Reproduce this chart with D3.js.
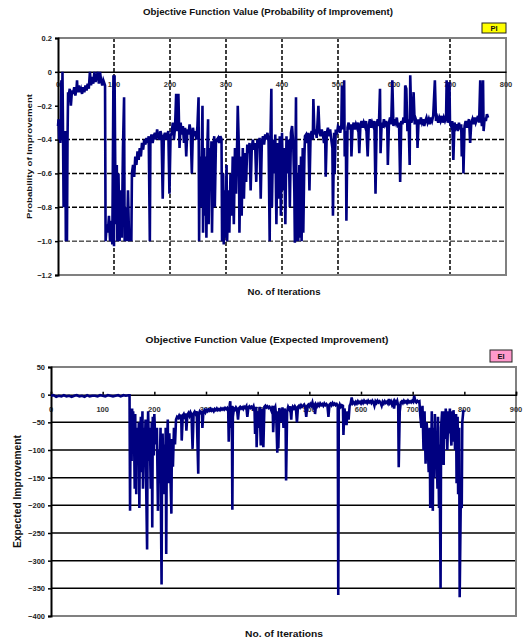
<!DOCTYPE html>
<html>
<head>
<meta charset="utf-8">
<script src="https://cdn.jsdelivr.net/npm/d3@7"></script>
<style>
  body { margin: 0; background: #fff; }
  svg { display: block; font-family: "Liberation Sans", Arial, sans-serif; font-weight: bold; }
</style>
</head>
<body>
<svg id="chart" width="524" height="641"></svg>
<script>
// --- data (iteration, value) ---
const piPoints = [
  [0,-0.32],[1,-0.28],[2,-0.4],[3,-0.3],[4,-0.42],[5,-0.35],[6,-0.05],[7,-0.3],[8,0],[9,-0.38],[10,-0.8],[11,-0.42],[12,-0.6],[13,-0.35],[14,-1],[15,-0.45],[16,-1],[17,-0.4],[18,-0.12],
  [19,-0.14],[21,-0.1],[23,-0.2],[25,-0.11],[27,-0.13],[29,-0.09],[31,-0.14],[33,-0.1],[34,-0.05],[35,-0.12],[37,-0.08],[39,-0.12],[41,-0.1],[43,-0.13],[45,-0.09],[47,-0.12],[49,-0.08],[51,-0.11],[53,-0.07],[55,-0.1],[57,0],[59,-0.08],[61,-0.03],[63,-0.07],[65,0],[67,-0.06],[69,-0.03],[71,0],[73,-0.07],[75,0],[77,-0.05],[79,-0.08],[81,-0.05],[83,-0.07],
  [84,-0.08],[85,-1],[87,-0.9],[89,-0.95],[91,-0.85],[93,-1],[95,-0.88],[97,-1.02],[99,-0.02],[100,-1.03],[101,-0.02],[103,-0.9],[105,-0.55],[106,-1],[108,-0.6],[110,-1],[112,-0.7],[114,-0.98],[116,-0.45],[118,-0.15],[119,-1],[121,-0.8],[123,-1],[125,-0.7],[127,-1],[129,-0.95],[131,-1],[132,-0.6],
  [134,-0.55],[136,-0.62],[138,-0.5],[140,-0.55],[142,-0.47],[144,-0.52],[146,-0.45],[148,-0.5],[150,-0.42],[152,-0.46],[154,-0.4],[156,-0.43],[158,-0.39],[160,-0.42],[162,-0.38],[164,-1],[165,-0.4],[167,-0.37],[169,-0.42],[171,-0.38],[173,-0.36],[175,-0.4],[177,-0.34],[179,-0.38],[181,-0.4],[183,-0.35],[185,-0.38],[187,-0.75],[189,-0.38],[191,-0.36],[193,-0.4],[195,-0.37],[197,-0.35],[199,-0.72],[201,-0.38],[203,-0.36],
  [205,-0.3],[207,-0.4],[209,-0.33],[211,-0.13],[213,-0.35],[215,-0.13],[217,-0.45],[219,-0.3],[221,-0.37],[223,-0.32],[225,-0.42],[227,-0.33],[229,-0.5],[231,-0.34],[233,-0.37],[235,-0.31],[237,-0.36],[239,-0.6],[241,-0.33],[243,-0.38],[245,-0.35],[247,-0.4],[249,-0.32],[251,-0.15],[252,-1],[253,-0.5],[255,-0.8],
  [257,-0.4],[258,-0.2],[259,-0.95],[261,-0.45],[262,-0.85],[264,-0.5],[265,-0.98],[267,-0.4],[268,-0.28],[269,-0.9],[271,-0.45],[272,-0.7],[274,-0.41],[275,-0.95],[277,-0.5],[279,-0.38],[280,-0.8],[282,-0.42],[284,-0.4],[286,-0.39],[288,-0.42],[290,-0.38],[292,-0.4],[293,-1],[295,-0.6],[296,-1.02],[298,-0.7],[299,-0.98],[301,-0.55],[302,-1],[304,-0.7],[306,-0.95],[308,-0.6],[310,-0.85],[312,-0.5],[314,-0.9],[316,-0.45],[318,-0.72],[320,-0.4],[321,-0.2],[323,-0.45],[324,-0.95],[326,-0.5],[328,-0.85],[330,-0.45],[332,-0.75],[334,-0.48],[336,-0.65],[338,-0.43],
  [340,-0.48],[342,-0.42],[344,-0.7],[346,-0.45],[348,-0.4],[350,-0.46],[352,-0.42],[354,-0.65],[356,-0.4],[358,-0.45],[360,-0.39],[362,-0.75],[364,-0.42],[366,-0.38],[368,-0.43],[370,-0.37],[372,-0.4],[374,-0.36],[376,-0.41],[378,-1],[379,-0.45],[381,-0.1],[382,-0.8],[384,-0.4],[386,-0.6],[388,-0.37],[390,-0.9],[392,-0.42],[394,-0.75],
  [396,-0.38],[398,-0.85],[400,-0.36],[402,-0.7],[404,-0.45],[406,-0.9],[408,-0.38],[410,-0.6],[412,-0.4],[414,-0.8],[416,-0.36],[418,-0.32],[420,-0.42],[422,-0.7],[423,-1.01],[424,-0.5],[425,-0.15],[426,-1],[428,-0.6],[429,-1],[431,-0.55],[432,-0.98],[434,-0.5],[435,-1],[437,-0.45],[438,-0.95],[440,-0.5],[441,-0.38],
  [443,-0.37],[445,-0.42],[447,-0.36],[449,-0.7],[451,-0.38],[453,-0.35],[455,-0.4],[456,-0.16],[458,-0.37],[460,-0.34],[462,-0.39],[465,-0.2],[467,-0.36],[469,-0.38],[471,-0.34],[473,-0.37],[475,-0.42],[477,-0.35],[478,-0.62],[480,-0.36],[482,-0.33],[484,-0.38],[486,-0.34],[488,-0.4],[490,-0.45],[491,-0.85],[493,-0.36],[494,-0.6],[496,-0.34],[498,-0.37],[500,-0.32],
  [502,-0.33],[504,-0.36],[506,-0.31],[507,-0.08],[509,-0.34],[511,-0.05],[512,-0.5],[514,-0.35],[515,-0.88],[517,-0.33],[519,-0.3],[521,-0.34],[523,-0.31],[524,-0.5],[526,-0.33],[528,-0.3],[530,-0.34],[532,-0.31],[534,-0.33],[536,-0.3],[538,-0.48],[540,-0.32],[542,-0.29],[544,-0.33],[546,-0.3],[548,-0.32],[550,-0.29],[553,-0.5],[555,-0.31],[557,-0.28],[559,-0.33],[561,-0.3],[563,-0.32],[565,-0.29],[567,-0.72],[569,-0.31],[571,-0.28],[573,-0.32],[575,-0.1],[576,-0.48],[578,-0.3],[580,-0.33],
  [582,-0.28],[584,-0.31],[586,-0.29],[588,-0.33],[589,-0.55],[591,-0.3],[593,-0.27],[595,-0.31],[597,-0.05],[599,-0.32],[601,-0.28],[603,-0.3],[605,-0.27],[607,-0.33],[609,-0.3],[611,-0.65],[613,-0.29],[615,-0.31],[617,-0.27],[619,-0.3],[620,-0.08],[622,-0.1],[624,-0.35],[626,-0.28],[628,-0.55],[629,-0.02],[631,-0.3],[633,-0.27],[635,-0.12],[637,-0.31],[639,-0.28],[641,-0.3],[642,-0.45],[644,-0.28],[646,-0.31],[648,-0.27],[650,-0.3],[652,-0.28],[654,-0.32],[656,-0.29],[658,-0.27],
  [660,-0.3],[662,-0.28],[664,-0.31],[666,-0.27],[668,-0.29],[670,-0.26],[673,-0.05],[675,-0.29],[677,-0.27],[679,-0.3],[681,-0.27],[683,-0.29],[685,-0.26],[687,-0.3],[689,-0.27],[691,-0.29],[693,-0.27],[694,-0.05],[696,-0.3],[698,-0.28],[699,-0.06],[700,-0.3],[702,-0.32],[704,-0.29],[706,-0.52],[708,-0.3],[710,-0.33],[712,-0.31],[714,-0.35],[716,-0.3],[718,-0.34],[720,-0.31],[721,-0.5],[723,-0.33],[724,-0.6],[726,-0.32],[728,-0.29],[730,-0.33],[732,-0.3],[734,-0.28],[736,-0.42],[738,-0.3],[740,-0.28],[742,-0.31],[744,-0.27],[746,-0.3],[748,-0.28],[750,-0.26],[752,-0.3],[754,-0.05],[756,-0.28],[757,-0.32],[759,-0.05],[760,-0.35],[762,-0.27],[764,-0.29],[766,-0.25],[768,-0.27]
];

const eiPoints = [
  [0,-2],[5,-1],[10,-4],[15,-2],[20,-3],[25,-1],[30,-3],[35,-2],[40,-4],[45,-2],[50,-1],[55,-3],[60,-2],[65,-4],[70,-1],[75,-3],[80,-2],[85,-2],[90,-3],[95,-1],[100,-2],[105,-3],[110,-1],[115,-2],[120,-3],[125,-2],[130,-1],[135,-3],[140,-1],[145,-2],[150,-1],[152,-1],
  [153,-210],[154,-40],[156,-120],[157,-25],[158,-60],[159,-30],[161,-90],[162,-170],[163,-35],[165,-180],[166,-60],[168,-110],[170,-50],[171,-205],[172,-80],[174,-40],[175,-140],[177,-30],[178,-170],[180,-60],[181,-120],[183,-45],[184,-150],[186,-280],[187,-80],[188,-30],[190,-120],[191,-60],[193,-170],[195,-50],[196,-240],[197,-40],[199,-110],[200,-35],[202,-90],[204,-65],[205,-60],[207,-210],[208,-100],[210,-160],[212,-60],[213,-230],[214,-343],[215,-100],[216,-70],[218,-180],[219,-90],[221,-160],[222,-60],[223,-288],[224,-120],[226,-45],[227,-160],[229,-70],[231,-140],[233,-215],[234,-80],[236,-130],[238,-60],[240,-90],[242,-45],[244,-40],[246,-42],
  [248,-38],[250,-42],[252,-36],[253,-83],[255,-38],[257,-35],[259,-40],[261,-34],[262,-65],[264,-36],[266,-33],[268,-38],[270,-32],[272,-36],[274,-98],[276,-34],[278,-31],[280,-35],[282,-30],[285,-143],[286,-34],[288,-30],[290,-33],[292,-29],[293,-60],[295,-31],[297,-28],[299,-32],[301,-28],[303,-30],[305,-27],[307,-29],[309,-26],[311,-29],[313,-27],[315,-30],[317,-26],[319,-28],[321,-25],[323,-28],[325,-26],[327,-28],[329,-25],[331,-27],[333,-25],[335,-27],[337,-24],[339,-26],[341,-24],[343,-30],[344,-85],[345,-50],[346,-17],[347,-12],[348,-60],[350,-20],[351,-208],[352,-40],[354,-25],
  [356,-27],[358,-23],[360,-26],[362,-45],[364,-24],[366,-22],[368,-25],[370,-23],[372,-26],[374,-22],[376,-24],[378,-21],[380,-40],[382,-23],[384,-21],[386,-24],[388,-22],[390,-25],[392,-21],[394,-30],[395,-71],[397,-22],[398,-95],[400,-30],[402,-60],[404,-22],[406,-92],[408,-25],[410,-40],[411,-95],[413,-22],[415,-20],[417,-23],[419,-21],[421,-24],[423,-22],[425,-25],
  [427,-30],[429,-20],[430,-68],[432,-26],[434,-22],[436,-40],[438,-105],[439,-30],[440,-97],[442,-24],[444,-35],[446,-50],[448,-23],[450,-60],[452,-25],[454,-40],[455,-155],[457,-30],[459,-22],[461,-26],[463,-21],[465,-45],[466,-28],[468,-22],[470,-25],[472,-21],[474,-24],[476,-50],[478,-22],[480,-20],[482,-23],[484,-19],[486,-22],[488,-20],
  [490,-18],[492,-22],[494,-40],[496,-20],[498,-18],[500,-21],[502,-17],[504,-20],[506,-14],[508,-22],[510,-19],[511,-35],[513,-18],[515,-21],[517,-17],[519,-20],[521,-16],[523,-19],[525,-17],[527,-20],[529,-16],[531,-19],[533,-17],[535,-20],[537,-40],[539,-18],[541,-16],[543,-19],[545,-15],[547,-18],[549,-16],[551,-19],[553,-17],[555,-20],[556,-362],[557,-25],[559,-18],[561,-22],[563,-19],[565,-20],[566,-73],[568,-25],[570,-40],[572,-55],[574,-30],[576,-45],[578,-20],[580,-16],
  [582,-5],[584,-16],[586,-14],[588,-17],[590,-13],[592,-16],[594,-12],[596,-15],[598,-13],[600,-16],[602,-12],[604,-15],[606,-11],[608,-14],[610,-12],[612,-15],[614,-11],[616,-14],[618,-12],[620,-15],[622,-11],[624,-14],[626,-20],[628,-12],[630,-15],[632,-11],[634,-14],[636,-12],[638,-15],[640,-20],[642,-13],[644,-16],[646,-12],[648,-15],[650,-13],[652,-16],[654,-8],[656,-15],[658,-12],[660,-18],[662,-14],[664,-25],[666,-12],[668,-15],[670,-11],[672,-20],[673,-131],[675,-30],[677,-14],[679,-12],[681,-15],[683,-11],[685,-14],[687,-12],[689,-15],[691,-11],[693,-14],[695,-12],[697,-14],[699,-11],[701,-13],[703,-2],[705,-12],[707,-14],[709,-11],[711,-13],[713,-12],[715,-40],[717,-60],[719,-20],[721,-100],[723,-30],[725,-125],[727,-50],[729,-80],
  [731,-140],[733,-60],[734,-205],[736,-100],[737,-30],[739,-210],[740,-60],[742,-150],[743,-35],[745,-120],[746,-80],[748,-170],[749,-40],[751,-205],[752,-90],[754,-350],[755,-60],[757,-30],[758,-110],[760,-127],[761,-30],[763,-80],[764,-25],[766,-60],[767,-100],[769,-30],[770,-70],[772,-25],[773,-55],[775,-92],[776,-30],[778,-85],[779,-28],[781,-60],[782,-100],[784,-35],[785,-160],[787,-40],[788,-180],[790,-60],[791,-366],[793,-200],[795,-205],[796,-50],[798,-30],[800,-28]
];

const piXTicks = [0, 100, 200, 300, 400, 500, 600, 700, 800];
const piYTicks = [0.2, 0, -0.2, -0.4, -0.6, -0.8, -1, -1.2];
const piGridX = [100, 200, 300, 400, 500, 700];
const piGridY = [-0.4, -0.6, -0.8, -1];

const eiXTicks = [0, 100, 200, 300, 400, 500, 600, 700, 800, 900];
const eiYTicks = [50, 0, -50, -100, -150, -200, -250, -300, -350, -400];
const eiGridY = [-50, -100, -150, -200, -250, -300, -350];

const svg = d3.select('#chart');
const NAVY = '#000080';

function drawPanel(cfg) {
  const x = d3.scaleLinear().domain(cfg.xDomain).range([cfg.left, cfg.right]);
  const y = d3.scaleLinear().domain(cfg.yDomain).range([cfg.bottom, cfg.top]);
  const g = svg.append('g');

  // title
  g.append('text')
    .attr('x', cfg.titleX).attr('y', cfg.titleY)
    .attr('text-anchor', 'middle')
    .attr('font-size', cfg.titleSize)
    .attr('textLength', cfg.titleLen).attr('lengthAdjust', 'spacingAndGlyphs')
    .attr('fill', '#111')
    .text(cfg.title);

  // vertical grid
  g.selectAll('.gx').data(cfg.gridX || []).enter().append('line')
    .attr('x1', d => x(d)).attr('x2', d => x(d))
    .attr('y1', cfg.top).attr('y2', cfg.bottom)
    .attr('stroke', '#000').attr('stroke-width', 1.5)
    .attr('stroke-dasharray', '4,2');

  // horizontal grid
  g.selectAll('.gy').data(cfg.gridY).enter().append('line')
    .attr('x1', cfg.left).attr('x2', cfg.right)
    .attr('y1', d => y(d)).attr('y2', d => y(d))
    .attr('stroke', '#000')
    .attr('stroke-width', d => (cfg.dashed && d === -1) ? 1 : 1.5)
    .attr('stroke-dasharray', cfg.dashed ? '5,2' : null);

  // frame (grey top / right / bottom)
  g.append('path')
    .attr('d', `M${cfg.left},${cfg.top}H${cfg.right}V${cfg.bottom}H${cfg.left}`)
    .attr('fill', 'none').attr('stroke', '#808080').attr('stroke-width', 2);

  // zero line (category axis)
  const xAxis = d3.axisTop(x).tickValues(cfg.xTicks).tickSize(cfg.xTickSize).tickFormat('');
  g.append('g')
    .attr('transform', `translate(0,${y(0)})`)
    .call(xAxis)
    .call(a => a.select('.domain').attr('stroke', '#000').attr('stroke-width', 1.5))
    .call(a => a.selectAll('.tick line').attr('stroke', '#000').attr('stroke-width', 1.5));

  // x tick labels
  g.selectAll('.xl').data(cfg.xTicks).enter().append('text')
    .attr('x', d => x(d)).attr('y', y(0) + cfg.xLabelDy)
    .attr('text-anchor', 'middle')
    .attr('font-size', 7.5).attr('fill', '#333')
    .text(d => d);

  // value axis
  const yAxis = d3.axisLeft(y).tickValues(cfg.yTicks).tickSize(3).tickPadding(3).tickFormat(cfg.yFormat);
  g.append('g')
    .attr('transform', `translate(${cfg.left},0)`)
    .call(yAxis)
    .call(a => a.select('.domain').attr('stroke', '#000').attr('stroke-width', 2))
    .call(a => a.selectAll('.tick line').attr('stroke', '#000').attr('stroke-width', 1.5))
    .call(a => a.selectAll('.tick text')
      .attr('font-size', 7.5).attr('font-weight', 'bold')
      .attr('font-family', '"Liberation Sans", Arial, sans-serif').attr('fill', '#222'));

  // series
  const line = d3.line().x(d => x(d[0])).y(d => y(d[1]));
  g.append('path')
    .datum(cfg.points)
    .attr('d', line)
    .attr('fill', 'none').attr('stroke', NAVY)
    .attr('stroke-width', 2.6).attr('stroke-linejoin', 'miter');

  // axis titles
  g.append('text')
    .attr('transform', `translate(${cfg.yTitleX},${(cfg.top + cfg.bottom) / 2}) rotate(-90)`)
    .attr('text-anchor', 'middle').attr('dy', '0.35em')
    .attr('font-size', cfg.yTitleSize)
    .attr('textLength', cfg.yTitleLen).attr('lengthAdjust', 'spacingAndGlyphs')
    .attr('fill', '#111')
    .text(cfg.yTitle);

  g.append('text')
    .attr('x', cfg.xTitleX).attr('y', cfg.xTitleY)
    .attr('text-anchor', 'middle')
    .attr('font-size', 9.5)
    .attr('textLength', cfg.xTitleLen).attr('lengthAdjust', 'spacingAndGlyphs')
    .attr('fill', '#111')
    .text('No. of Iterations');

  // legend
  const lg = g.append('g').attr('transform', `translate(${cfg.legX},${cfg.legY})`);
  lg.append('rect')
    .attr('width', cfg.legW).attr('height', cfg.legH)
    .attr('fill', cfg.legFill).attr('stroke', '#222').attr('stroke-width', 1);
  lg.append('text')
    .attr('x', cfg.legW / 2).attr('y', cfg.legH / 2).attr('dy', '0.35em')
    .attr('text-anchor', 'middle').attr('font-size', 7.5).attr('fill', '#111')
    .text(cfg.legText);
}

drawPanel({
  points: piPoints,
  left: 58, right: 506, top: 38, bottom: 275,
  xDomain: [0, 800], yDomain: [-1.2, 0.2],
  xTicks: piXTicks, yTicks: piYTicks, gridX: piGridX, gridY: piGridY, dashed: true,
  xTickSize: 0, xLabelDy: 15,
  yFormat: d => d === 0 ? '0' : d3.format('.1f')(d).replace('-1.0', '-1'),
  title: 'Objective Function Value (Probability of Improvement)',
  titleX: 268, titleY: 15, titleSize: 8.5, titleLen: 250,
  yTitle: 'Probability of Improvement', yTitleX: 29, yTitleSize: 8, yTitleLen: 125,
  xTitleX: 284, xTitleY: 295, xTitleLen: 73,
  legX: 482, legY: 23, legW: 24, legH: 10, legFill: '#ffff00', legText: 'PI'
});

drawPanel({
  points: eiPoints,
  left: 51, right: 516, top: 367, bottom: 616,
  xDomain: [0, 900], yDomain: [-400, 50],
  xTicks: eiXTicks, yTicks: eiYTicks, gridY: eiGridY, dashed: false,
  xTickSize: 3, xLabelDy: 17,
  yFormat: d3.format('d'),
  title: 'Objective Function Value (Expected Improvement)',
  titleX: 267, titleY: 343, titleSize: 8.5, titleLen: 243,
  yTitle: 'Expected Improvement', yTitleX: 17, yTitleSize: 10, yTitleLen: 113,
  xTitleX: 284, xTitleY: 637, xTitleLen: 78,
  legX: 490, legY: 350, legW: 22, legH: 12, legFill: '#ff99cc', legText: 'EI'
});
</script>
</body>
</html>
